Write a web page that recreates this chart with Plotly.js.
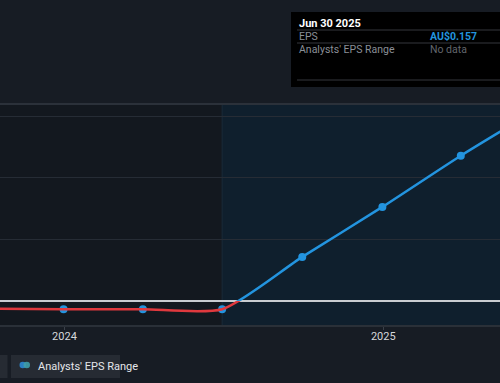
<!DOCTYPE html>
<html><head><meta charset="utf-8">
<script src="https://cdn.plot.ly/plotly-3.0.1.min.js"></script>
<style>html,body{margin:0;padding:0;background:#171c24;}#chart{width:500px;height:383px;}</style>
</head><body><div id="chart"></div>
<script>
// ---- data ----
const dates = ['2023-09-30','2023-12-31','2024-03-31','2024-06-30','2024-09-30','2024-12-31','2025-03-31','2025-06-30'];
const eps = [-0.0062,-0.0067,-0.0067,-0.0067,0.0358,0.0764,0.118,0.157];
const forecastStart = '2024-06-30';
const tickVals = ['2024-01-01','2025-01-01'];
const tickText = ['2024','2025'];
const gridVals = [0.05,0.10,0.15];
const tipTitle = 'Jun 30 2025';
const tipRows = ['EPS', "Analysts' EPS Range"];
const tipVals = ['AU$0.157', 'No data'];
const legendLabel = "Analysts' EPS Range";

// ---- layout helpers ----
const W = 500, H = 383, T = 104, B = 58;
const plotH = H - T - B;
const yMin = -0.0195, yMax = 0.160;
const z = (0 - yMin) / (yMax - yMin);
const px = x => x / W;
const py = y => (H - B - y) / plotH;
const FONT = 'Roboto, "Open Sans", sans-serif';
const BLUE = '#2394df', RED = '#e0393e';
const SMOOTH = 0.65;

const traces = [
  {x: dates, y: eps, xaxis: 'x', yaxis: 'y2', mode: 'lines', hoverinfo: 'skip',
   line: {color: RED, width: 2.5, shape: 'spline', smoothing: SMOOTH, simplify: false}},
  {x: dates, y: eps, xaxis: 'x', yaxis: 'y3', mode: 'lines', hoverinfo: 'skip',
   line: {color: BLUE, width: 2.5, shape: 'spline', smoothing: SMOOTH, simplify: false}},
  {x: dates, y: eps, xaxis: 'x', yaxis: 'y', mode: 'markers', hoverinfo: 'skip',
   marker: {color: BLUE, size: 8}}
];

const shapes = [
  // plot background
  {type:'rect', xref:'paper', yref:'paper', x0:0, x1:1, y0:0, y1:1, fillcolor:'#13181f', line:{width:0}, layer:'below'},
  // forecast region
  {type:'rect', xref:'x', yref:'paper', x0:forecastStart, x1:'2025-12-31', y0:0, y1:1, fillcolor:'#0f1f2d', line:{width:0}, layer:'below'},
  {type:'line', xref:'x', yref:'paper', x0:forecastStart, x1:forecastStart, y0:0, y1:1, line:{color:'#1a2a38', width:1}, layer:'below'},
  // top border
  {type:'line', xref:'paper', yref:'paper', x0:0, x1:1, y0:1, y1:1, line:{color:'#2b313a', width:2}, layer:'below'},
  // tooltip
  {type:'rect', xref:'paper', yref:'paper', x0:px(291), x1:px(510), y0:py(87), y1:py(12), fillcolor:'#000000', line:{width:0}, layer:'above'},
  {type:'line', xref:'paper', yref:'paper', x0:px(297), x1:px(505), y0:py(30), y1:py(30), line:{color:'#34373c', width:1}, layer:'above'},
  {type:'line', xref:'paper', yref:'paper', x0:px(297), x1:px(505), y0:py(43), y1:py(43), line:{color:'#34373c', width:1}, layer:'above'},
  {type:'line', xref:'paper', yref:'paper', x0:px(297), x1:px(505), y0:py(80), y1:py(80), line:{color:'#34373c', width:1}, layer:'above'},
  // legend buttons
  {type:'rect', xref:'paper', yref:'paper', x0:px(-12), x1:px(7.5), y0:py(378), y1:py(355), fillcolor:'#262b33', line:{width:0}, layer:'above'},
  {type:'rect', xref:'paper', yref:'paper', x0:px(11), x1:px(120), y0:py(378), y1:py(355), fillcolor:'#262b33', line:{width:0}, layer:'above'},
  {type:'circle', xref:'paper', yref:'paper', x0:px(19.5), x1:px(26), y0:py(368.3), y1:py(361.8), fillcolor:'#2b7fc2', line:{width:0}, layer:'above'},
  {type:'circle', xref:'paper', yref:'paper', x0:px(23.5), x1:px(30), y0:py(368.3), y1:py(361.8), fillcolor:'#3f9ea8', opacity:0.9, line:{width:0}, layer:'above'}
];

const annotations = [
  {xref:'paper', yref:'paper', x:px(297), y:py(23), xanchor:'left', yanchor:'middle', showarrow:false,
   text:'<b>'+tipTitle+'</b>', font:{family:FONT, size:11, color:'#ffffff'}},
  {xref:'paper', yref:'paper', x:px(297), y:py(36.5), xanchor:'left', yanchor:'middle', showarrow:false,
   text:tipRows[0], font:{family:FONT, size:10.5, color:'#8a8f97'}},
  {xref:'paper', yref:'paper', x:px(428), y:py(36.5), xanchor:'left', yanchor:'middle', showarrow:false,
   text:'<b>'+tipVals[0]+'</b>', font:{family:FONT, size:10.5, color:BLUE}},
  {xref:'paper', yref:'paper', x:px(297), y:py(49.5), xanchor:'left', yanchor:'middle', showarrow:false,
   text:tipRows[1], font:{family:FONT, size:10.5, color:'#8a8f97'}},
  {xref:'paper', yref:'paper', x:px(428), y:py(49.5), xanchor:'left', yanchor:'middle', showarrow:false,
   text:tipVals[1], font:{family:FONT, size:10.5, color:'#62666d'}},
  {xref:'paper', yref:'paper', x:px(36), y:py(366), xanchor:'left', yanchor:'middle', showarrow:false,
   text:legendLabel, font:{family:FONT, size:11, color:'#e4e6ea'}}
];

const layout = {
  width: W, height: H,
  margin: {l:0, r:0, t:T, b:B, pad:0},
  paper_bgcolor: '#171c24',
  plot_bgcolor: 'rgba(0,0,0,0)',
  showlegend: false,
  hovermode: false,
  font: {family: FONT, color: '#d0d3d8'},
  xaxis: {type:'date', range:['2023-10-19','2025-05-15'], domain:[0,1], anchor:'y',
    tickvals: tickVals, ticktext: tickText, ticks:'outside', ticklen:3, tickwidth:1, tickcolor:'#3a4049',
    ticklabelstandoff:-3,
    tickfont:{family:FONT, size:11, color:'#d6d8dc'}, showgrid:false, zeroline:false,
    showline:true, linecolor:'#2a3038', linewidth:2, fixedrange:true},
  yaxis: {range:[yMin, yMax], domain:[0,1], anchor:'x', tickvals: gridVals, showticklabels:false,
    ticks:'', showgrid:true, gridcolor:'#262c35', gridwidth:1,
    zeroline:true, zerolinecolor:'#c9ccd1', zerolinewidth:1.5, showline:false, fixedrange:true},
  yaxis2: {range:[yMin, 0], domain:[0, z], anchor:'x', visible:false, fixedrange:true},
  yaxis3: {range:[0, yMax], domain:[z, 1], anchor:'x', visible:false, fixedrange:true},
  shapes: shapes,
  annotations: annotations
};

Plotly.newPlot('chart', traces, layout, {displayModeBar:false, staticPlot:true});
</script>
</body></html>
